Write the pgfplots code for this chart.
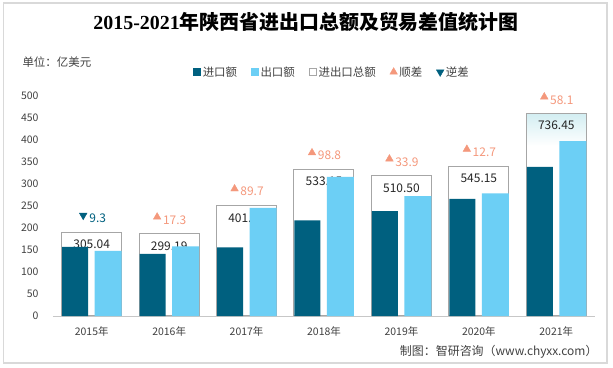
\documentclass[border=0pt]{standalone}
\usepackage{pgfplots}
\pgfplotsset{compat=1.18}
\usepackage{fontspec}
\setmainfont{Noto Sans CJK SC}
\newfontfamily\titlelat{Liberation Serif}
\definecolor{importc}{HTML}{00607F}
\definecolor{exportc}{HTML}{6CCFF5}
\definecolor{salmonc}{HTML}{F4987C}
\definecolor{boxgray}{HTML}{A6A6A6}
\definecolor{topcyan}{HTML}{D3EEF2}
\definecolor{txt}{HTML}{404040}
\pgfdeclareverticalshading{boxshade}{100bp}{color(0bp)=(white); color(25bp)=(white); color(67bp)=(white); color(75bp)=(topcyan); color(100bp)=(topcyan)}
\begin{document}
\begin{tikzpicture}
\path (0,0) rectangle (613bp,368bp);
\draw[color=black!15, line width=1.2bp] (3.5bp,5bp) rectangle (607bp,365bp);
\node at (306bp,346bp) {\fontsize{20}{20}\selectfont\bfseries {\titlelat\bfseries 2015-2021}年陕西省进出口总额及贸易差值统计图};
\node[anchor=west, text=txt] at (19bp,306bp) {\fontsize{11.5}{12}\selectfont 单位：亿美元};
\node[anchor=east, text=txt] at (601bp,16bp) {\fontsize{12}{12}\selectfont 制图：智研咨询（www.chyxx.com）};

% total boxes on their own (hidden) scale 0-800
\begin{axis}[at={(53bp,52bp)}, anchor=south west, scale only axis,
  width=542bp, height=220bp, xmin=-0.5, xmax=6.5, ymin=0, ymax=800,
  hide axis, clip=false]
\addplot[ybar, bar width=60bp, bar shift=0pt, draw=boxgray, line width=1bp,
  shading=boxshade, nodes near coords, point meta=explicit symbolic,
  nodes near coords align={anchor=north},
  every node near coord/.append style={yshift=-4bp, font=\fontsize{12}{12}\selectfont, text=black!85}]
  table[x=x, y=y, meta=lab] {
x y lab
0 305.04 305.04
1 299.19 299.19
2 401.42 401.42
3 533.15 533.15
4 510.50 510.50
5 545.15 545.15
6 736.45 736.45
};
\end{axis}

\begin{axis}[at={(53bp,52bp)}, anchor=south west, scale only axis,
  width=542bp, height=220bp, xmin=-0.5, xmax=6.5, ymin=0, ymax=500,
  ytick={0,50,...,500}, xtick={0,...,6},
  xticklabels={2015年,2016年,2017年,2018年,2019年,2020年,2021年},
  axis x line=bottom, axis y line=left,
  x axis line style={draw=black!22, line width=1bp, -},
  y axis line style={draw=none},
  major tick length=0pt, clip=false,
  tick label style={font=\fontsize{10.5}{12}\selectfont, text=txt},
  /pgf/number format/assume math mode=true,
  yticklabel style={xshift=-11bp},
  xticklabel style={yshift=-7bp},
  legend style={at={(0.515,1.109)}, anchor=center, draw=none, fill=none,
    font=\fontsize{11.5}{12}\selectfont, text=txt,
    /tikz/every even column/.append style={column sep=12bp}},
  legend columns=-1]
\addplot[ybar, bar width=26bp, bar shift=-16.5bp, fill=importc, draw=none,
  legend image code/.code={\fill[importc] (0bp,-3.7bp) rectangle (7.4bp,3.7bp);}]
  table[x=x, y=y] {
x y
0 157.17
1 140.95
2 155.86
3 217.18
4 238.30
5 266.23
6 339.18
};
\addlegendentry{进口额}
\addplot[ybar, bar width=27bp, bar shift=16.5bp, fill=exportc, draw=none,
  legend image code/.code={\fill[exportc] (0bp,-3.7bp) rectangle (7.4bp,3.7bp);}]
  table[x=x, y=y] {
x y
0 147.87
1 158.24
2 245.56
3 315.98
4 272.20
5 278.93
6 397.28
};
\addlegendentry{出口额}
\addlegendimage{legend image code/.code={\draw[boxgray, fill=white, line width=0.7bp] (0bp,-3.5bp) rectangle (7bp,3.5bp);}}
\addlegendentry{进出口总额}
% surplus (marker height = total box top + 38); label shift is relative to the shifted mark
\addplot[only marks, mark=triangle*, mark size=4.4bp, color=salmonc,
  mark options={xshift=-12bp},
  nodes near coords, point meta=explicit symbolic,
  every node near coord/.append style={xshift=17.5bp, yshift=-7.5bp, inner sep=0pt, font=\fontsize{12}{12}\selectfont, text=salmonc}]
  table[x=x, y=y, meta=lab] {
x y lab
1 225.0 17.3
2 289.0 89.7
3 371.0 98.8
4 357.0 33.9
5 379.0 12.7
6 498.0 58.1
};
\addlegendentry{顺差}
\addplot[only marks, mark=triangle*, mark size=4.4bp, color=importc,
  mark options={xshift=-8.5bp, rotate=180},
  nodes near coords, point meta=explicit symbolic,
  every node near coord/.append style={xshift=14.5bp, yshift=-7.5bp, inner sep=0pt, font=\fontsize{12}{12}\selectfont, text=importc}]
  table[x=x, y=y, meta=lab] {
x y lab
0 228.7 9.3
};
\addlegendentry{逆差}
\end{axis}
\end{tikzpicture}
\end{document}
